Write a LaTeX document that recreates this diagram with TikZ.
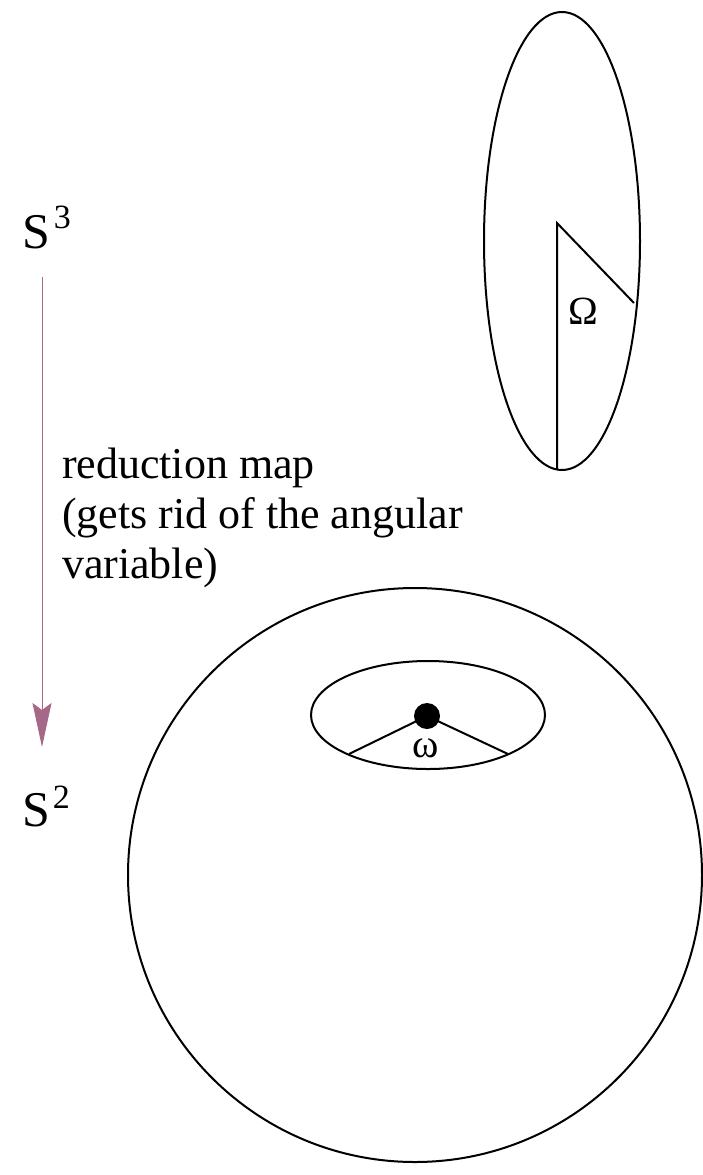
\documentclass[tikz,border=0pt]{standalone}
\usepackage{fontspec}
\setmainfont{Liberation Serif}
\usetikzlibrary{arrows.meta}
\definecolor{mauve}{RGB}{165,105,135}
\begin{document}
\begin{tikzpicture}[x=1pt, y=-1pt, line width=2pt]
            \useasboundingbox (0,0) rectangle (703,1175);

            % the fibre over a point
            \draw (562,241) ellipse [x radius=78, y radius=229];
            \coordinate (fbot) at (557,469);
            \coordinate (ftop) at (557,223);
            \coordinate (fside) at (634,303);
            \draw (fbot) -- (ftop) -- (fside);
            \node[font=\fontsize{40}{40}\selectfont, inner sep=0pt] (bigomega) at (583,311) {Ω};

            % the base sphere
            \draw (415,875) circle [radius=287];
            \draw (428,715) ellipse [x radius=117, y radius=54];
            \node[circle, fill=black, inner sep=0pt, minimum size=26pt] (pt) at (427,716) {};
            \coordinate (cl) at (349,754);
            \coordinate (cr) at (508,754);
            \draw (cl) -- (pt.center) -- (cr);
            \node[font=\fontsize{40}{40}\selectfont, inner sep=0pt] (smallomega) at (426,748) {ω};

            % spaces and the map between them
            \node[anchor=base west, inner sep=0pt, font=\fontsize{50}{50}\selectfont] (s3) at (22,248) {S\kern3pt\raisebox{20pt}{\fontsize{34}{34}\selectfont 3}};
            \node[anchor=base west, inner sep=0pt, font=\fontsize{50}{50}\selectfont] (s2) at (21,826) {S\kern3pt\raisebox{18pt}{\fontsize{34}{34}\selectfont 2}};
            \coordinate (mapstart) at (42,277);
            \coordinate (mapend) at (42,747);
            \draw[mauve, line width=1pt, -{Stealth[length=44pt, width=19pt, inset=7pt]}] (mapstart) -- (mapend);
            \node[anchor=north west, inner sep=0pt, align=left, font=\fontsize{44}{50}\selectfont] (maplabel) at (61,447) {reduction map\\(gets rid of the angular\\variable)};
        \end{tikzpicture}
\end{document}
